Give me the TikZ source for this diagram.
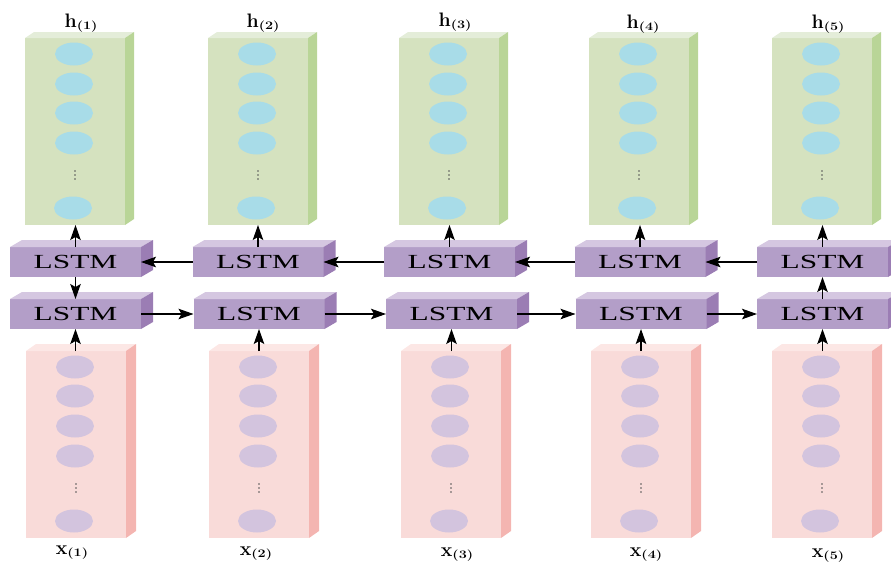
\documentclass[tikz,border=0pt]{standalone}
\usepackage{fontspec}
\newfontfamily\cellfont{Liberation Serif}
\usetikzlibrary{arrows.meta,calc}

\definecolor{gfront}{HTML}{D5E2BF}
\definecolor{gtop}{HTML}{E4EDD9}
\definecolor{gside}{HTML}{B9D597}
\definecolor{gunit}{HTML}{A8DCE8}
\definecolor{pfront}{HTML}{F9DBD9}
\definecolor{ptop}{HTML}{FCE7E5}
\definecolor{pside}{HTML}{F4B5B1}
\definecolor{punit}{HTML}{D3C4DE}
\definecolor{lfront}{HTML}{B39EC8}
\definecolor{ltop}{HTML}{D5C7E1}
\definecolor{lside}{HTML}{9B7DB4}
\definecolor{dotgray}{HTML}{555555}

\tikzset{
  slab/.style={rectangle, inner sep=0pt, outer sep=0pt},
  hlayer/.style={slab, fill=gfront, minimum width=100pt, minimum height=187pt},
  xlayer/.style={slab, fill=pfront, minimum width=100pt, minimum height=187pt},
  cell/.style={slab, fill=lfront, minimum width=131pt, minimum height=30pt,
    font=\cellfont\fontsize{20}{20}\selectfont},
  arr/.style={-{Stealth[length=15pt,width=10.5pt,inset=3pt]}, line width=1.1pt, black},
  lab/.style={anchor=base, inner sep=0pt, font=\fontsize{19.5}{21}\selectfont\bfseries},
}

% top and side faces of a slab node: name, depth x, depth y, top colour, side colour
\newcommand\slabfaces[5]{%
  \fill[#4] (#1.north west) -- ++(#2,-#3) -- ($(#1.north east)+(#2,-#3)$) -- (#1.north east) -- cycle;
  \fill[#5] (#1.north east) -- ++(#2,-#3) -- ($(#1.south east)+(#2,-#3)$) -- (#1.south east) -- cycle;
}
% column of units: centre x, y of the four units, dots, colour
\newcommand\unitcolumn[4]{%
  \foreach \uy in {#2} {\fill[#4] (#1-1,\uy) ellipse (19 and 11.5);}
  \fill[#4] (#1-2,#3+33) ellipse (19 and 11.5);
  \foreach \dy in {-4,0,4} {\fill[dotgray] (#1,#3+\dy) circle (0.9);}
}
\newcommand\sublab[2]{#1\raisebox{-2.5pt}{\fontsize{11.5}{12}\selectfont\scalebox{1.25}[1]{(#2)}}}

\begin{document}
\begin{tikzpicture}[x=1pt,y=-1pt]
\useasboundingbox (0,0) rectangle (891,563);

\foreach \i/\gx/\px/\ux/\lx in {1/75/76/75.5/75.5, 2/258/259/258/259, 3/449/451/449.5/451.5,
                                 4/639/641/640/641, 5/822/822/822.5/822.5} {
  % output layer h
  \node[hlayer] (h\i) at (\gx,131.5) {};
  \slabfaces{h\i}{9}{6}{gtop}{gside}
  \unitcolumn{\gx}{54,84,113,143}{175}{gunit}
  % input layer x
  \node[xlayer] (x\i) at (\px,444.5) {};
  \slabfaces{x\i}{10}{7}{ptop}{pside}
  \unitcolumn{\px}{367,396,426,456}{488}{punit}
  % backward and forward LSTM cells
  \node[cell] (u\i) at (\ux,262) {\scalebox{1.57}[1]{LSTM}};
  \slabfaces{u\i}{12}{7}{ltop}{lside}
  \node[cell] (l\i) at (\lx,314) {\scalebox{1.57}[1]{LSTM}};
  \slabfaces{l\i}{12}{7}{ltop}{lside}
}

% labels
\node[lab] (th1) at (81,27)  {\sublab{h}{1}};
\node[lab] (th2) at (263,27) {\sublab{h}{2}};
\node[lab] (th3) at (455,26) {\sublab{h}{3}};
\node[lab] (th4) at (643,28) {\sublab{h}{4}};
\node[lab] (th5) at (828,28) {\sublab{h}{5}};
\node[lab] (tx1) at (72,554)  {\sublab{x}{1}};
\node[lab] (tx2) at (256,555) {\sublab{x}{2}};
\node[lab] (tx3) at (457,556) {\sublab{x}{3}};
\node[lab] (tx4) at (646,556) {\sublab{x}{4}};
\node[lab] (tx5) at (828,557) {\sublab{x}{5}};

% vertical connectors
\foreach \i in {1,...,5} {
  \draw[arr] (u\i.north) -- (u\i.north |- h\i.south);
  \draw[arr] (l\i.south |- x\i.north) -- (l\i.south);
}
\draw[arr] (u1.south) -- (l1.north);
\draw[arr] (l5.north) -- (u5.south);

% horizontal connectors
\foreach \i/\j in {1/2,2/3,3/4,4/5} {
  \draw[arr] (u\j.west) -- (u\i.east);
  \draw[arr] (l\i.east) -- (l\j.west);
}
\end{tikzpicture}
\end{document}
